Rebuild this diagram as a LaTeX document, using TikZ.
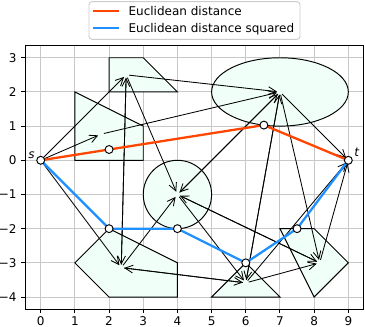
\documentclass[tikz,border=0pt]{standalone}
\usepackage{fontspec}
\setmainfont{DejaVu Sans}
\usetikzlibrary{arrows.meta}
\definecolor{fillc}{RGB}{240,255,248}
\definecolor{gridc}{RGB}{200,200,200}
\definecolor{orpath}{RGB}{255,69,0}
\definecolor{blpath}{RGB}{30,144,255}
\definecolor{legedge}{RGB}{204,204,204}
\tikzset{
  gridline/.style={draw=gridc, line width=0.8pt},
  region/.style={draw=black, fill=fillc, line width=0.8pt},
  axline/.style={draw=black, line width=0.8pt},
  arr/.style={-{Straight Barb[length=6.5pt,width=6.5pt]}, line width=0.7pt, shorten >=2.5pt, shorten <=2.5pt},
  orst/.style={draw=orpath, line width=1.9pt, line join=round},
  blst/.style={draw=blpath, line width=1.9pt, line join=round},
  mk/.style={circle, draw=black, fill=white, line width=0.8pt, inner sep=0pt, minimum size=6.6pt},
  ticklab/.style={inner sep=0pt},
  legbox/.style={draw=legedge, fill=white, line width=0.8pt, rounded corners=2.5pt}
}
\begin{document}
\begin{tikzpicture}[x=1cm, y=1cm, font=\fontsize{10}{12}\selectfont]
\useasboundingbox (-1.191,-4.877) rectangle (9.488,4.690);

% grid
\foreach \i in {0,...,9} \draw[gridline] (\i,-4.35) -- (\i,3.35);
\foreach \j in {-4,...,3} \draw[gridline] (-0.45,\j) -- (9.45,\j);

% convex sets
\draw[region] (1,0) -- (3,0) -- (3,1) -- (1,2) -- cycle;
\draw[region] (2,2) -- (4,2) -- (3,3) -- (2,3) -- cycle;
\draw[region] (2,-2) -- (1,-3) -- (2,-4) -- (4,-4) -- (4,-3) -- cycle;
\draw[region] (5,-4) -- (7,-4) -- (6,-3) -- cycle;
\draw[region] (7,-2) -- (8,-2) -- (9,-3) -- (8,-4) -- cycle;
\draw[region] (4,-1) circle (1);
\draw[region] (7,2) ellipse (2 and 1);

% frame, ticks, labels
\draw[axline] (-0.45,-4.35) rectangle (9.45,3.35);
\foreach \i in {0,...,9} {
  \draw[axline] (\i,-4.35) -- (\i,-4.473);
  \node[ticklab, anchor=base] (xl\i) at (\i,-4.83) {\i};
}
\foreach \j/\l in {-4/−4,-3/−3,-2/−2,-1/−1,0/0,1/1,2/2,3/3} {
  \draw[axline] (-0.45,\j) -- (-0.573,\j);
  \node[ticklab, anchor=east] (yl\l) at (-0.70,\j) {\l};
}

% set centres
\coordinate (s) at (0,0);
\coordinate (t) at (9,0);
\coordinate (cA) at (1.764,0.764);
\coordinate (cB) at (2.5,2.5);
\coordinate (cH) at (2.356,-3.14);
\coordinate (cT) at (6,-3.586);
\coordinate (cD) at (8.162,-3);
\coordinate (cC) at (4,-1);
\coordinate (cE) at (7,2);

% edges
\draw[arr] (s) -- (cA);
\draw[arr] (s) -- (cB);
\draw[arr] (s) -- (cH);
\draw[arr] (cA) -- (cE);
\draw[arr] (cB) -- (cH);
\draw[arr] (cB) -- (cC);
\draw[arr] (cB) -- (cE);
\draw[arr] (cH) -- (cB);
\draw[arr] (cH) -- (cT);
\draw[arr] (cH) -- (cC);
\draw[arr] (cT) -- (t);
\draw[arr] (cT) -- (cH);
\draw[arr] (cT) -- (cD);
\draw[arr] (cT) -- (cE);
\draw[arr] (cD) -- (t);
\draw[arr] (cD) -- (cC);
\draw[arr] (cC) -- (cT);
\draw[arr] (cC) -- (cD);
\draw[arr] (cC) -- (cE);
\draw[arr] (cE) -- (t);
\draw[arr] (cE) -- (cT);
\draw[arr] (cE) -- (cD);
\draw[arr] (cE) -- (cC);

% shortest paths
\coordinate (o1) at (2,0.316);
\coordinate (o2) at (6.53,1.03);
\coordinate (b1) at (2,-2);
\coordinate (b2) at (4,-2);
\coordinate (b3) at (6,-3);
\coordinate (b4) at (7.5,-2);
\draw[orst] (s) -- (o1) -- (o2) -- (t);
\draw[blst] (s) -- (b1) -- (b2) -- (b3) -- (b4) -- (t);
\foreach \p in {s,t,o1,o2,b1,b2,b3,b4} \node[mk] (m\p) at (\p) {};

\node[inner sep=0pt, font=\fontsize{10}{12}\selectfont\itshape] (slab) at (-0.27,0.16) {s};
\node[inner sep=0pt, font=\fontsize{10}{12}\selectfont\itshape] (tlab) at (9.245,0.243) {t};

% legend
\draw[legbox] (1.413,3.54) rectangle (7.586,4.64);
\coordinate (l1a) at (1.521,4.368); \coordinate (l1b) at (2.291,4.368);
\coordinate (l2a) at (1.521,3.862); \coordinate (l2b) at (2.291,3.862);
\draw[orst] (l1a) -- (l1b);
\draw[blst] (l2a) -- (l2b);
\node[inner sep=0pt, anchor=base west] (lt1) at (2.563,4.251) {Euclidean distance};
\node[inner sep=0pt, anchor=base west] (lt2) at (2.563,3.745) {Euclidean distance squared};
\end{tikzpicture}
\end{document}
